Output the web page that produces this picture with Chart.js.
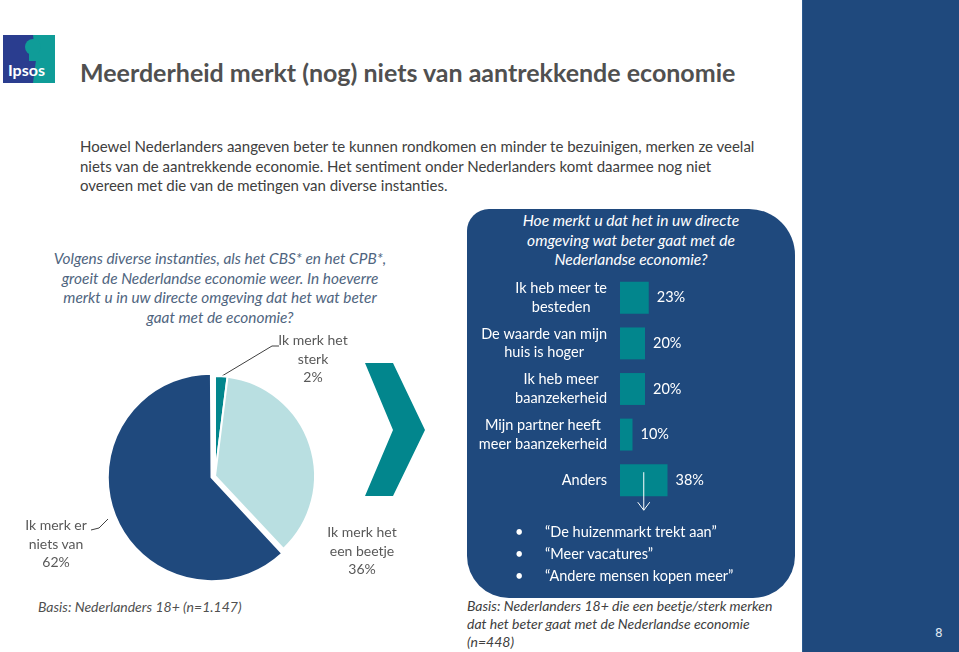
<!DOCTYPE html>
<html>
<head>
<meta charset="utf-8">
<script src="https://cdn.jsdelivr.net/npm/chart.js@4.4.0/dist/chart.umd.min.js"></script>
<style>
  body { margin: 0; background: #fff; }
  #slide { position: relative; width: 959px; height: 652px; overflow: hidden; background: #fff; font-family: Lato, "Open Sans", sans-serif; }
  .abs { position: absolute; white-space: nowrap; }
  #sidebar { position: absolute; left: 802px; top: 0; width: 157px; height: 652px; background: #1f497d; border-left: 1px solid #2c5a8f; }
  #pageNo { position: absolute; left: 935px; top: 626px; color: #dfe6f0; font-size: 12px; font-family: "DejaVu Sans", sans-serif; }
  #title { left: 80px; top: 57px; font-size: 25px; font-weight: bold; color: #505050; }
  #intro { left: 80px; top: 137px; font-size: 15px; line-height: 19.5px; color: #404040; }
  #leftQ { left: 20px; top: 249px; width: 400px; text-align: center; font-size: 15.4px; line-height: 19.5px; font-style: italic; color: #4f6580; }
  .pieLbl { font-size: 14px; line-height: 18.5px; color: #595959; text-align: center; }
  #box { position: absolute; left: 467px; top: 209px; width: 328px; height: 389px; background: #1f497d; border-radius: 22px 46px 42px 42px; }
  #boxQ { left: 467px; top: 211px; width: 328px; text-align: center; font-size: 15.6px; line-height: 19.5px; font-style: italic; color: #fff; }
  #bullets { left: 515px; top: 521px; font-size: 14.5px; line-height: 22px; color: #fff; }
  #bullets span { display: inline-block; width: 30px; }
  .basis { font-size: 14px; line-height: 18px; font-style: italic; color: #404040; }
</style>
</head>
<body>
<div id="slide">
  <svg class="abs" style="left:0;top:0" width="959" height="652">
    <!-- Ipsos logo -->
    <rect x="3" y="35" width="52" height="48" fill="#2a3d8f"/>
    <polygon points="33,35 55,35 55,83 33,83 36,60" fill="#0f9c98"/>
    <circle cx="33" cy="47" r="8" fill="#0f9c98"/>
    <rect x="29" y="53" width="9" height="8" fill="#0f9c98"/>
    <text x="8" y="76" font-family="Lato, sans-serif" font-weight="bold" font-size="16" fill="#fff">Ipsos</text>
    <!-- chevron -->
    <polygon points="365,363 393,363 425,430 393,496 365,496 393,430" fill="#02868d"/>
    <!-- pie leader lines -->
    <polyline points="222,376 272,346 279,346" fill="none" stroke="#404040" stroke-width="1"/>
    <polyline points="91,530 99,528 108,519" fill="none" stroke="#404040" stroke-width="1"/>
  </svg>

  <div id="sidebar"></div>
  <div id="pageNo">8</div>

  <div id="title" class="abs">Meerderheid merkt (nog) niets van aantrekkende economie</div>
  <div id="intro" class="abs">Hoewel Nederlanders aangeven beter te kunnen rondkomen en minder te bezuinigen, merken ze veelal<br>niets van de aantrekkende economie. Het sentiment onder Nederlanders komt daarmee nog niet<br>overeen met die van de metingen van diverse instanties.</div>

  <div id="leftQ" class="abs">Volgens diverse instanties, als het CBS* en het CPB*,<br>groeit de Nederlandse economie weer. In hoeverre<br>merkt u in uw directe omgeving dat het wat beter<br>gaat met de economie?</div>

  <canvas id="pieChart" class="abs" style="left:95px;top:356px" width="240" height="240"></canvas>

  <div class="abs pieLbl" style="left:263px;top:331px;width:100px">Ik merk het<br>sterk<br>2%</div>
  <div class="abs pieLbl" style="left:312px;top:523px;width:100px">Ik merk het<br>een beetje<br>36%</div>
  <div class="abs pieLbl" style="left:6px;top:516px;width:100px">Ik merk er<br>niets van<br>62%</div>

  <div id="box"></div>
  <div id="boxQ" class="abs">Hoe merkt u dat het in uw directe<br>omgeving wat beter gaat met de<br>Nederlandse economie?</div>
  <canvas id="barChart" class="abs" style="left:467px;top:275px" width="328" height="240"></canvas>
  <div id="bullets" class="abs"><span>•</span>“De huizenmarkt trekt aan”<br><span>•</span>“Meer vacatures”<br><span>•</span>“Andere mensen kopen meer”</div>

  <div class="abs basis" style="left:38px;top:598px;color:#505050">Basis: Nederlanders 18+ (n=1.147)</div>
  <div class="abs basis" style="left:467px;top:597px">Basis: Nederlanders 18+ die een beetje/sterk merken<br>dat het beter gaat met de Nederlandse economie<br>(n=448)</div>
</div>

<script>
// pie data
var pieLabels = ['Ik merk het sterk', 'Ik merk het een beetje', 'Ik merk er niets van'];
var pieValues = [2, 36, 62];
var pieColors = ['#02868d', '#b9dfe1', '#1f497d'];

// bar data
var barLabels = [
    ['Ik heb meer te', 'besteden'],
    ['De waarde van mijn', 'huis is hoger'],
    ['Ik heb meer', 'baanzekerheid'],
    ['Mijn partner heeft', 'meer baanzekerheid'],
    ['Anders']
];
var barValues = [23, 20, 20, 10, 38];

var pieCtx = document.getElementById('pieChart').getContext('2d');
var pieChart = new Chart(pieCtx, {
    type: 'pie',
    data: {
        labels: pieLabels,
        datasets: [{
            data: pieValues,
            backgroundColor: pieColors,
            borderColor: '#ffffff',
            borderWidth: 2,
            offset: [0, 0, 15],
            radius: 100
        }]
    },
    options: {
        responsive: false,
        animation: false,
        plugins: { legend: { display: false }, tooltip: { enabled: false } }
    }
});

// draws category labels, value labels and the arrow under "Anders"
var barTextPlugin = {
    id: 'barText',
    afterDatasetsDraw: function(chart) {
        var ctx = chart.ctx;
        var meta = chart.getDatasetMeta(0);
        var yScale = chart.scales.y;
        ctx.save();
        ctx.fillStyle = '#ffffff';
        ctx.font = '14.5px Lato, sans-serif';
        ctx.textBaseline = 'middle';

        meta.data.forEach(function(bar, i) {
            // value label
            ctx.textAlign = 'left';
            ctx.fillText(barValues[i] + '%', bar.x + 8, bar.y);

            // category label, lines centred on each other, block right-aligned
            var lines = barLabels[i];
            var maxW = 0;
            lines.forEach(function(l) { maxW = Math.max(maxW, ctx.measureText(l).width); });
            var cx = chart.chartArea.left - 13 - maxW / 2;
            var lh = 18.5;
            var y0 = yScale.getPixelForTick(i) - (lines.length - 1) * lh / 2;
            ctx.textAlign = 'center';
            lines.forEach(function(l, k) { ctx.fillText(l, cx, y0 + k * lh); });
        });

        // arrow from the "Anders" bar
        var last = meta.data[meta.data.length - 1];
        var ax = (last.x + last.base) / 2;
        ctx.strokeStyle = '#ffffff';
        ctx.lineWidth = 1;
        ctx.beginPath();
        ctx.moveTo(ax, last.y - 8);
        ctx.lineTo(ax, last.y + 30);
        ctx.moveTo(ax - 6, last.y + 22);
        ctx.lineTo(ax, last.y + 30);
        ctx.lineTo(ax + 6, last.y + 22);
        ctx.stroke();
        ctx.restore();
    }
};

var barCtx = document.getElementById('barChart').getContext('2d');
var barChart = new Chart(barCtx, {
    type: 'bar',
    data: {
        labels: barLabels,
        datasets: [{
            data: barValues,
            backgroundColor: '#02868d',
            borderWidth: 0,
            barPercentage: 0.7,
            categoryPercentage: 1
        }]
    },
    options: {
        indexAxis: 'y',
        responsive: false,
        animation: false,
        layout: { padding: { left: 153, right: 50, top: 0, bottom: 12 } },
        scales: {
            x: { display: false, min: 0, max: 100 },
            y: { display: false }
        },
        plugins: { legend: { display: false }, tooltip: { enabled: false } }
    },
    plugins: [barTextPlugin]
});
</script>
</body>
</html>
